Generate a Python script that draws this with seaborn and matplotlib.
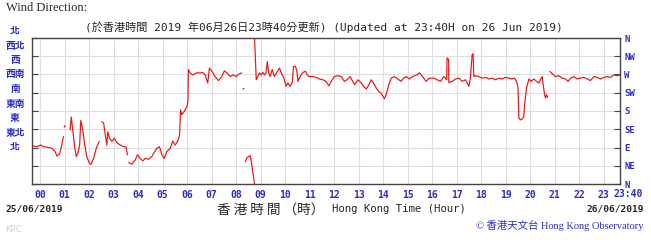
import pandas as pd
import matplotlib.pyplot as plt
import seaborn as sns

# wind direction (degrees) against hour of day, split where the record has gaps
seg1_hour = [-0.30, -0.14, 0.03, 0.14, 0.27, 0.48, 0.61, 0.68, 0.79, 0.88, 0.95]
seg1_deg = [94, 92, 96, 92, 91, 88, 80, 69, 74, 96, 117]

seg2_hour = [0.98, 1.02]
seg2_deg = [140, 144]

seg3_hour = [1.22, 1.27, 1.33, 1.40, 1.47, 1.54, 1.61, 1.66, 1.74, 1.81, 1.90, 2.01,
             2.08, 2.18, 2.29, 2.41]
seg3_deg = [133, 165, 133, 96, 68, 76, 96, 157, 133, 100, 68, 51, 49, 63, 88, 105]

seg4_hour = [2.52, 2.59, 2.65, 2.72, 2.76, 2.83, 2.93, 3.03, 3.13, 3.27, 3.40, 3.51, 3.56]
seg4_deg = [154, 150, 125, 96, 129, 113, 105, 113, 102, 96, 92, 91, 72]

seg5_hour = [3.61, 3.74, 3.88, 3.97, 4.08, 4.19, 4.29, 4.42, 4.56, 4.76, 4.87, 4.97,
             5.06, 5.17, 5.31, 5.41, 5.51, 5.61, 5.69, 5.73, 5.78, 5.88, 5.99, 6.03,
             6.05, 6.12, 6.23, 6.37, 6.53, 6.64, 6.73, 6.84, 6.91, 7.01, 7.14, 7.28,
             7.41, 7.52, 7.62, 7.76, 7.87, 8.00, 8.10, 8.23]
seg5_deg = [53, 49, 59, 72, 63, 57, 63, 61, 68, 88, 92, 72,
            63, 80, 88, 106, 96, 105, 121, 183, 171, 179, 191, 203,
            282, 274, 269, 274, 274, 275, 269, 249, 286, 278, 265, 255,
            265, 279, 274, 265, 269, 265, 271, 274]

seg6_hour = [8.28, 8.32]
seg6_deg = [234, 236]

seg7_hour = [8.38, 8.45, 8.52, 8.58, 8.75]
seg7_deg = [55, 66, 68, 70, 0]

seg8_hour = [8.75, 8.82, 8.95, 9.02, 9.09, 9.16, 9.22, 9.27, 9.33, 9.39, 9.47, 9.56,
             9.66, 9.77, 9.84, 9.95, 10.04, 10.11, 10.20, 10.29, 10.34, 10.42, 10.48,
             10.52, 10.61, 10.72, 10.83, 10.90, 10.97, 11.13, 11.27, 11.40, 11.54,
             11.67, 11.78, 11.88, 12.01, 12.15, 12.29, 12.42, 12.52, 12.65, 12.83,
             12.97, 13.11, 13.20, 13.31, 13.42, 13.51, 13.61, 13.72, 13.82, 13.92,
             13.99, 14.05, 14.12, 14.23, 14.33, 14.46, 14.60, 14.73, 14.83, 14.94,
             15.07, 15.20, 15.37, 15.48, 15.61, 15.75, 15.88, 16.07, 16.20, 16.34,
             16.48, 16.59, 16.61, 16.67, 16.68, 16.82, 16.95, 17.09, 17.22, 17.36,
             17.50, 17.56, 17.63, 17.67, 17.70, 17.77, 17.90, 18.04, 18.18, 18.31,
             18.45, 18.59, 18.72, 18.86, 18.99, 19.13, 19.27, 19.36, 19.44, 19.50,
             19.54, 19.61, 19.67, 19.74, 19.78, 19.85, 19.95, 20.04, 20.15, 20.26,
             20.35, 20.42, 20.49, 20.53, 20.59, 20.63, 20.67, 20.71]
seg8_deg = [360, 257, 274, 269, 275, 269, 274, 302, 274, 265, 282, 265,
            275, 286, 274, 261, 241, 249, 241, 251, 290, 290, 278,
            253, 265, 275, 278, 269, 265, 265, 263, 259, 257,
            253, 242, 253, 265, 267, 265, 253, 257, 265, 245,
            257, 249, 241, 234, 245, 257, 249, 236, 228, 224,
            216, 210, 220, 245, 261, 265, 259, 253, 261, 265,
            259, 265, 269, 274, 265, 253, 261, 261, 257, 253,
            265, 257, 311, 307, 250, 253, 259, 261, 253, 257,
            241, 261, 319, 321, 265, 267, 265, 261, 263, 259,
            261, 257, 261, 259, 263, 261, 259, 261, 253, 241,
            162, 158, 160, 166, 199, 236, 259, 253, 259, 253,
            249, 257, 265, 245, 220, 212, 220, 214]

seg9_hour = [20.80, 20.90, 21.03, 21.17, 21.31, 21.44, 21.55, 21.65, 21.78, 21.92,
             22.03, 22.19, 22.33, 22.46, 22.60, 22.73, 22.87, 23.01, 23.14, 23.28,
             23.41, 23.55, 23.69]
seg9_deg = [278, 272, 265, 267, 261, 259, 253, 261, 265, 259,
            261, 263, 259, 255, 265, 263, 259, 263, 265, 263,
            269, 267, 269]

hour_labels = ["%02d" % h for h in range(24)]
dir_labels = ["N", "NE", "E", "SE", "S", "SW", "W", "NW", "N"]
dir_labels_zh = ["北", "西北", "西", "西南", "南", "東南", "東", "東北", "北"]

segments = [(seg1_hour, seg1_deg), (seg2_hour, seg2_deg), (seg3_hour, seg3_deg),
            (seg4_hour, seg4_deg), (seg5_hour, seg5_deg), (seg6_hour, seg6_deg),
            (seg7_hour, seg7_deg), (seg8_hour, seg8_deg), (seg9_hour, seg9_deg)]
frames = []
for i, (h, d) in enumerate(segments):
    frames.append(pd.DataFrame({"hour": h, "deg": d, "seg": i}))
df = pd.concat(frames, ignore_index=True)

sns.set_style("white")
plt.rcParams["font.family"] = ["DejaVu Sans", "Noto Sans CJK TC"]

blue = "#2b2bd0"
W, H = 651, 245
fig = plt.figure(figsize=(W / 100, H / 100), dpi=100)
ax = fig.add_axes([32 / W, 1 - 184 / H, (620 - 32) / W, (184 - 38) / H])

sns.lineplot(data=df, x="hour", y="deg", units="seg", estimator=None, sort=False,
             color="#f01010", linewidth=0.85, ax=ax)

ax.set_xlim(-1 / 3, 23 + 2 / 3)
ax.set_ylim(0, 360)
ax.set_xticks(range(24))
ax.set_xticklabels(hour_labels)
ax.set_yticks(range(0, 361, 45))
ax.set_yticklabels(dir_labels)
ax.set_xlabel("")
ax.set_ylabel("")
ax.grid(True, color="#dedede", linewidth=0.8)
ax.tick_params(axis="both", direction="in", length=4, width=0.8, color="#444444")
ax.tick_params(axis="x", pad=4, labelsize=7, labelcolor=blue)
ax.tick_params(axis="y", left=True, right=True, labelleft=False, labelright=True,
               pad=3, labelsize=6.5, labelcolor=blue)
for lab in ax.get_xticklabels() + ax.get_yticklabels():
    lab.set_fontweight("bold")
    lab.set_family("DejaVu Sans Mono")
for s in ax.spines.values():
    s.set_color("#444444")
    s.set_linewidth(1)

# left-hand Chinese direction labels
for i, t in enumerate(dir_labels_zh):
    fig.text(15 / W, 1 - (31 + i * 14.5) / H, t, color=blue, fontsize=7, fontweight="bold",
             ha="center", va="center", family=["Noto Sans CJK TC"])

fig.text(6 / W, 1 - 8 / H, "Wind Direction:", fontsize=9, family="Liberation Serif",
         ha="left", va="center")
fig.text(324 / W, 1 - 27 / H,
         "(於香港時間 2019 年06月26日23時40分更新) (Updated at 23:40H on 26 Jun 2019)",
         fontsize=8, ha="center", va="center", family=["DejaVu Sans Mono", "Noto Sans CJK TC"])
fig.text(628 / W, 1 - 194 / H, "23:40", color=blue, fontsize=7, fontweight="bold",
         ha="center", va="center", family="DejaVu Sans Mono")
fig.text(5 / W, 1 - 209 / H, "25/06/2019", fontsize=6.8, fontweight="bold",
         ha="left", va="center", family="DejaVu Sans Mono")
fig.text(644 / W, 1 - 209 / H, "26/06/2019", fontsize=6.8, fontweight="bold",
         ha="right", va="center", family="DejaVu Sans Mono")
fig.text(217 / W, 1 - 210 / H, "香 港 時 間 （時）", fontsize=9.8, ha="left", va="center",
         family=["Noto Sans CJK TC"])
fig.text(332 / W, 1 - 209 / H, "Hong Kong Time (Hour)", fontsize=7.7, ha="left",
         va="center", family="DejaVu Sans Mono")
fig.text(643 / W, 1 - 225 / H, "© 香港天文台 Hong Kong Observatory", fontsize=7.5,
         color=blue, ha="right", va="center", family=["Liberation Serif", "Noto Sans CJK TC"])
fig.text(5 / W, 1 - 229 / H, "KPC", fontsize=6, color="#d0d0d0", ha="left", va="center")

fig.savefig("out.png", dpi=100)
